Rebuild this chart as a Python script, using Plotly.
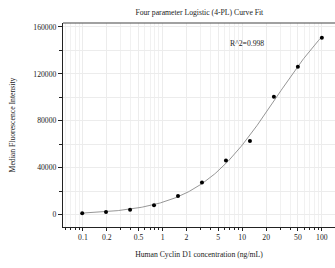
import numpy as np
import plotly.graph_objects as go

# Data
concentration = [0.098, 0.195, 0.391, 0.781, 1.5625, 3.125, 6.25, 12.5, 25, 50, 100]
mfi = [1100, 2000, 4000, 7800, 15700, 27200, 46100, 62700, 100400, 126100, 150900]
x_major = [0.1, 0.2, 0.5, 1, 2, 5, 10, 20, 50, 100]
x_major_text = ["0.1", "0.2", "0.5", "1", "2", "5", "10", "20", "50", "100"]
y_ticks = [0, 40000, 80000, 120000, 160000]
y_tick_text = ["0", "40000", "80000", "120000", "160000"]
r2_text = "R^2=0.998"

# 4PL fit (grid search on B, C; linear least squares for A, D)
xs = np.array(concentration, dtype=float)
ys = np.array(mfi, dtype=float)
best = None
for B in np.linspace(0.5, 2.5, 81):
    for logC in np.linspace(-1, 3, 161):
        C = 10 ** logC
        g = 1.0 / (1.0 + (xs / C) ** B)
        M = np.column_stack([g, 1 - g])
        coef, *_ = np.linalg.lstsq(M, ys, rcond=None)
        res = np.sum((M @ coef - ys) ** 2)
        if best is None or res < best[0]:
            best = (res, B, C, coef)
_, B, C, (A, D) = best
xc = np.logspace(np.log10(0.098), np.log10(100), 200)
yc = D + (A - D) / (1 + (xc / C) ** B)

# minor tick positions
minor_vals = []
for dec in [0.01, 0.1, 1, 10, 100]:
    for m in range(1, 10):
        v = m * dec
        if 0.055 < v < 150 and round(v, 6) not in [round(t, 6) for t in x_major]:
            minor_vals.append(v)

font = "Liberation Serif"
fs = 7.7
tc = "#1a1a1a"
fig = go.Figure()
fig.add_trace(go.Scatter(x=xc, y=yc, mode="lines",
                         line=dict(color="#8a8a8a", width=0.9), hoverinfo="skip"))
fig.add_trace(go.Scatter(x=concentration, y=mfi, mode="markers",
                         marker=dict(color="black", size=4)))

fig.update_layout(
    width=335, height=268,
    margin=dict(l=63, r=0, t=23, b=41),
    plot_bgcolor="white", paper_bgcolor="white",
    showlegend=False,
    font=dict(family=font, size=fs, color=tc),
    title=dict(text="Four parameter Logistic (4-PL) Curve Fit", x=0.595, xanchor="center",
               y=0.955, yanchor="middle", font=dict(size=fs, family=font, color=tc)),
    annotations=[dict(text=r2_text, xref="paper", yref="paper", x=0.748, y=0.93,
                      showarrow=False, font=dict(size=fs, family=font, color=tc))],
)
fig.update_xaxes(
    type="log", range=[-1.25, 2.165],
    tickmode="array", tickvals=x_major, ticktext=x_major_text,
    ticks="outside", ticklen=3, tickwidth=1, tickcolor="#222",
    showline=True, linecolor="#222", linewidth=1.2, mirror=False,
    showgrid=True, gridcolor="#ececec", gridwidth=0.6,
    minor=dict(tickmode="array", tickvals=minor_vals, ticks="outside", ticklen=2,
               tickcolor="#222", showgrid=True, gridcolor="#f1f1f1", gridwidth=0.6),
    title=dict(text="Human Cyclin D1 concentration (ng/mL)", standoff=10,
               font=dict(size=fs, family=font, color=tc)),
    zeroline=False, tickfont=dict(size=fs, family=font, color=tc),
)
fig.update_yaxes(
    range=[-10700, 163400],
    tickmode="array", tickvals=y_ticks, ticktext=y_tick_text,
    ticks="outside", ticklen=4, tickwidth=1, tickcolor="#222",
    showline=True, linecolor="#222", linewidth=1.2,
    showgrid=True, gridcolor="#ececec", gridwidth=0.6,
    minor=dict(dtick=20000, tick0=0, ticks="outside", ticklen=3, tickcolor="#222",
               showgrid=True, gridcolor="#ececec", gridwidth=0.6),
    title=dict(text="Median Fluorescence Intensity", standoff=16,
               font=dict(size=fs, family=font, color=tc)),
    zeroline=False, tickfont=dict(size=fs, family=font, color=tc),
)
# top border line
fig.add_shape(type="line", xref="paper", yref="paper", x0=0, x1=1, y0=1, y1=1,
              line=dict(color="#444", width=1.2))
fig.write_html("out.html", config={"displayModeBar": False},
               post_script="document.body.style.margin='0';")
